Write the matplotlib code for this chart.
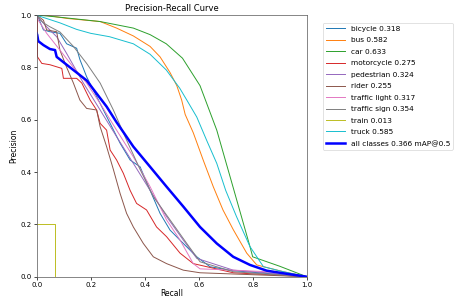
import matplotlib
matplotlib.use("Agg")
import matplotlib.pyplot as plt

# values (recall, precision)
bicycle_r = [0.0, 0.006, 0.025, 0.049, 0.086, 0.111, 0.148, 0.16, 0.185, 0.21, 0.235, 0.272, 0.309, 0.346, 0.383, 0.42, 0.457, 0.494, 0.543, 0.593, 0.642, 0.728, 1.0]
bicycle_p = [1.0, 0.99, 0.943, 0.936, 0.93, 0.89, 0.873, 0.83, 0.764, 0.713, 0.662, 0.586, 0.51, 0.446, 0.42, 0.33, 0.242, 0.178, 0.127, 0.076, 0.038, 0.023, 0.0]

bus_r = [0.0, 0.03, 0.111, 0.235, 0.296, 0.358, 0.42, 0.457, 0.494, 0.519, 0.537, 0.55, 0.58, 0.617, 0.654, 0.69, 0.728, 0.778, 0.815, 0.91, 1.0]
bus_p = [1.0, 1.0, 0.987, 0.975, 0.95, 0.92, 0.88, 0.84, 0.78, 0.73, 0.675, 0.62, 0.55, 0.445, 0.344, 0.255, 0.18, 0.09, 0.045, 0.02, 0.0]

car_r = [0.0, 0.1, 0.235, 0.358, 0.42, 0.48, 0.54, 0.605, 0.667, 0.728, 0.79, 0.80, 0.9, 1.0]
car_p = [1.0, 0.99, 0.975, 0.95, 0.925, 0.89, 0.835, 0.73, 0.56, 0.34, 0.115, 0.076, 0.04, 0.0]

motorcycle_r = [0.0, 0.003, 0.003, 0.019, 0.049, 0.093, 0.099, 0.148, 0.167, 0.198, 0.222, 0.235, 0.259, 0.272, 0.296, 0.321, 0.346, 0.37, 0.407, 0.444, 0.481, 0.531, 0.58, 0.728, 1.0]
motorcycle_p = [1.0, 1.0, 0.84, 0.815, 0.81, 0.796, 0.758, 0.758, 0.74, 0.675, 0.637, 0.586, 0.56, 0.484, 0.446, 0.395, 0.33, 0.28, 0.255, 0.19, 0.153, 0.09, 0.05, 0.015, 0.0]

pedestrian_r = [0.0, 0.006, 0.037, 0.074, 0.111, 0.173, 0.235, 0.296, 0.358, 0.42, 0.481, 0.543, 0.593, 0.728, 0.852, 1.0]
pedestrian_p = [1.0, 0.99, 0.955, 0.917, 0.853, 0.74, 0.637, 0.535, 0.433, 0.33, 0.23, 0.14, 0.07, 0.025, 0.015, 0.0]

rider_r = [0.0, 0.025, 0.037, 0.074, 0.086, 0.111, 0.136, 0.16, 0.185, 0.222, 0.235, 0.259, 0.284, 0.309, 0.333, 0.358, 0.395, 0.432, 0.481, 0.543, 0.605, 1.0]
rider_p = [1.0, 0.98, 0.943, 0.936, 0.866, 0.80, 0.74, 0.675, 0.643, 0.637, 0.573, 0.497, 0.41, 0.318, 0.242, 0.19, 0.127, 0.076, 0.05, 0.025, 0.015, 0.0]

traffic_light_r = [0.0, 0.006, 0.037, 0.086, 0.136, 0.185, 0.235, 0.296, 0.358, 0.42, 0.481, 0.531, 0.58, 0.605, 0.728, 0.852, 1.0]
traffic_light_p = [1.0, 0.98, 0.93, 0.866, 0.80, 0.74, 0.662, 0.56, 0.458, 0.344, 0.217, 0.14, 0.05, 0.03, 0.025, 0.019, 0.0]

traffic_sign_r = [0.0, 0.006, 0.025, 0.049, 0.086, 0.136, 0.185, 0.235, 0.284, 0.333, 0.383, 0.432, 0.494, 0.556, 0.605, 0.728, 0.852, 1.0]
traffic_sign_p = [1.0, 0.99, 0.97, 0.955, 0.935, 0.88, 0.815, 0.74, 0.637, 0.522, 0.41, 0.306, 0.217, 0.127, 0.057, 0.019, 0.01, 0.0]

train_r = [0.0, 0.068, 0.068, 1.0]
train_p = [0.2, 0.2, 0.0, 0.0]

truck_r = [0.0, 0.012, 0.086, 0.148, 0.2, 0.27, 0.358, 0.42, 0.48, 0.53, 0.556, 0.593, 0.63, 0.667, 0.70, 0.74, 0.79, 0.84, 0.91, 1.0]
truck_p = [1.0, 0.995, 0.97, 0.945, 0.93, 0.917, 0.89, 0.85, 0.79, 0.72, 0.675, 0.61, 0.52, 0.433, 0.33, 0.23, 0.115, 0.038, 0.02, 0.0]

all_r = [0.0, 0.002, 0.006, 0.025, 0.049, 0.068, 0.074, 0.111, 0.148, 0.185, 0.222, 0.259, 0.296, 0.358, 0.42, 0.481, 0.543, 0.605, 0.667, 0.728, 0.79, 0.852, 0.914, 1.0]
all_p = [0.93, 0.924, 0.90, 0.885, 0.87, 0.866, 0.84, 0.81, 0.78, 0.75, 0.70, 0.65, 0.59, 0.497, 0.42, 0.344, 0.268, 0.19, 0.127, 0.076, 0.045, 0.023, 0.013, 0.0]

names = ["bicycle", "bus", "car", "motorcycle", "pedestrian", "rider",
         "traffic light", "traffic sign", "train", "truck"]
ap = [0.318, 0.582, 0.633, 0.275, 0.324, 0.255, 0.317, 0.354, 0.013, 0.585]
curves = [(bicycle_r, bicycle_p), (bus_r, bus_p), (car_r, car_p),
          (motorcycle_r, motorcycle_p), (pedestrian_r, pedestrian_p),
          (rider_r, rider_p), (traffic_light_r, traffic_light_p),
          (traffic_sign_r, traffic_sign_p), (train_r, train_p), (truck_r, truck_p)]
all_map = 0.366

fig = plt.figure(figsize=(4.65, 3.05), dpi=100)
ax = fig.add_axes([0.0789, 0.0928, 0.5806, 0.858])

for (r, p), n, a in zip(curves, names, ap):
    ax.plot(r, p, linewidth=0.7, label=f"{n} {a:.3f}")
ax.plot(all_r, all_p, linewidth=1.8, color="blue", label=f"all classes {all_map:.3f} mAP@0.5")

ax.set_xlim(0, 1)
ax.set_ylim(0, 1)
ax.set_xticks([0, 0.2, 0.4, 0.6, 0.8, 1.0])
ax.set_yticks([0, 0.2, 0.4, 0.6, 0.8, 1.0])
ax.tick_params(labelsize=5, length=2, width=0.5, pad=1.5)
for s in ax.spines.values():
    s.set_linewidth(0.5)
    s.set_color("#555555")
ax.set_xlabel("Recall", fontsize=5.5, labelpad=1)
ax.set_ylabel("Precision", fontsize=5.5, labelpad=2)
ax.set_title("Precision-Recall Curve", fontsize=6, pad=3)

leg = ax.legend(bbox_to_anchor=(1.059, 0.97), loc="upper left", borderaxespad=0,
                fontsize=5.3, handlelength=2.6, labelspacing=0.72, frameon=True)
leg.get_frame().set_linewidth(0.5)

fig.savefig("out.png", dpi=100)
